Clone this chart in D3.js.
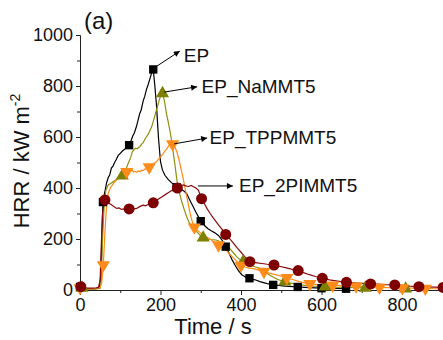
<!DOCTYPE html>
<html><head><meta charset="utf-8">
<script src="https://cdn.jsdelivr.net/npm/d3@7"></script>
<style>body{margin:0;background:#fff}svg{display:block}text{font-family:"Liberation Sans",Arial,sans-serif}</style>
</head><body><svg id="c" width="443" height="340"></svg>
<script>
// ---- data ----
const xTicks = [0, 200, 400, 600, 800];
const xMinor = [100, 300, 500, 700, 900];
const yTicks = [0, 200, 400, 600, 800, 1000];
const yMinor = [100, 300, 500, 700, 900];
const seriesNames = ["EP", "EP_NaMMT5", "EP_TPPMMT5", "EP_2PIMMT5"];

const epLine = [[0,14],[5,10],[10,6],[20,4],[30,4],[40,5],[48,8],[52,60],[55,250],[57,340],[60,372],[63,395],[66,420],[70,440],[74,452],[78,478],[82,486],[86,500],[90,512],[95,528],[100,536],[106,546],[111,552],[116,560],[122,568],[127,586],[131,604],[135,616],[140,640],[144,664],[148,690],[152,706],[157,742],[161,760],[165,786],[169,804],[174,830],[178,852],[182,865],[186,800],[190,725],[195,596],[200,503],[205,470],[211,450],[220,432],[228,420],[240,405],[250,395],[258,388],[265,378],[272,355],[280,330],[288,305],[295,285],[302,270],[310,252],[318,240],[326,232],[335,224],[344,214],[352,198],[362,172],[370,145],[378,118],[386,95],[394,75],[402,60],[412,50],[421,46],[435,40],[447,33],[465,25],[480,20],[510,15],[540,12],[570,9],[600,7],[630,6],[660,5],[670,4]];
const epMarks = [[0,12],[57,345],[122,568],[182,865],[240,403],[300,270],[362,170],[421,46],[480,20],[541,12],[600,7],[661,5]];

const naLine = [[0,12],[10,6],[20,4],[30,3],[40,4],[50,6],[53,40],[56,200],[60,330],[64,390],[70,412],[76,418],[83,425],[90,432],[98,440],[105,448],[112,462],[118,490],[122,505],[126,520],[130,542],[134,550],[138,556],[142,554],[146,560],[149,562],[153,572],[157,578],[161,590],[166,603],[170,612],[174,626],[178,640],[184,672],[190,706],[196,740],[201,765],[205,771],[210,740],[215,690],[219,660],[224,620],[228,582],[232,535],[236,490],[240,440],[244,400],[248,375],[253,345],[259,315],[265,287],[272,262],[279,245],[286,235],[294,222],[300,212],[306,205],[315,200],[325,198],[333,197],[340,195],[348,190],[356,184],[364,176],[372,162],[380,148],[389,131],[397,120],[405,110],[414,104],[425,96],[436,90],[447,85],[460,70],[475,55],[490,42],[505,34],[520,28],[540,22],[560,18],[580,15],[605,13],[630,11],[660,10],[690,9],[710,8],[730,7]];
const naMarks = [[5,8],[105,448],[205,771],[306,205],[405,110],[509,33],[609,13],[709,8],[809,5]];

const tpLine = [[0,10],[10,5],[20,4],[30,5],[40,6],[50,10],[54,30],[58,98],[62,230],[66,330],[70,379],[76,402],[83,418],[90,430],[99,444],[108,455],[116,464],[121,470],[125,466],[129,472],[133,463],[137,466],[141,461],[145,468],[149,464],[153,470],[157,468],[161,474],[165,476],[168,478],[172,482],[176,486],[180,494],[184,497],[188,500],[192,506],[196,515],[200,520],[204,530],[207,536],[211,545],[215,552],[219,562],[224,572],[230,572],[236,560],[241,540],[246,510],[251,475],[256,440],[261,400],[266,360],[271,320],[276,285],[282,250],[290,235],[298,226],[306,216],[314,208],[323,200],[332,190],[338,182],[344,176],[352,168],[358,162],[364,155],[372,140],[380,128],[388,115],[395,104],[400,96],[410,90],[420,86],[431,84],[444,78],[457,72],[470,66],[485,60],[500,54],[514,48],[530,40],[545,33],[558,28],[571,24],[590,21],[610,19],[628,18],[650,17],[668,16],[686,15],[705,13],[725,11],[744,10],[765,9],[785,8],[801,8],[830,7],[858,6],[880,5],[900,5]];
const tpMarks = [[0,8],[58,98],[116,464],[172,482],[230,572],[284,246],[344,176],[400,96],[457,72],[514,48],[571,24],[628,18],[686,15],[744,10],[801,8],[858,6]];

const piLine = [[0,13],[5,10],[10,8],[20,7],[30,7],[40,8],[46,10],[50,40],[53,180],[56,300],[60,345],[62,353],[66,348],[72,340],[79,333],[85,326],[91,320],[97,322],[103,316],[110,318],[116,314],[122,318],[128,322],[134,318],[141,320],[147,326],[152,330],[157,333],[163,330],[170,336],[176,340],[182,342],[188,350],[194,356],[200,362],[206,368],[212,374],[218,380],[224,386],[230,392],[236,396],[240,399],[246,404],[252,410],[257,412],[263,408],[270,406],[276,410],[282,405],[288,400],[294,392],[298,375],[302,358],[310,335],[316,318],[323,301],[330,285],[337,270],[344,255],[352,240],[357,230],[363,218],[370,204],[378,190],[385,176],[392,162],[399,150],[406,137],[414,122],[421,111],[430,108],[440,106],[452,104],[465,101],[482,98],[495,93],[510,88],[525,82],[542,76],[555,68],[570,60],[585,53],[602,46],[620,40],[640,35],[662,30],[680,28],[700,26],[722,24],[740,23],[760,21],[782,20],[800,18],[820,15],[842,13],[860,12],[880,11],[902,10]];
const piMarks = [[2,13],[62,353],[122,318],[182,342],[242,400],[302,358],[362,218],[422,111],[482,98],[542,76],[602,46],[662,30],[722,24],[782,20],[842,13],[902,10]];

// annotation arrows (data coords): from, to, label anchor
const annFrom = [[191,878],[209,776],[234,573],[293,408]];
const annTo   = [[248,937],[291,797],[316,596],[380,408]];
const annText = [[258,895],[302,771],[322,571],[395,383]];

// ---- drawing ----
const svg = d3.select("#c");
const x = d3.scaleLinear().domain([0, 900]).range([80, 442.25]);
const y = d3.scaleLinear().domain([0, 1000]).range([290, 35]);

const defs = svg.append("defs");
defs.append("marker").attr("id","ah").attr("viewBox","0 0 10 10").attr("refX",10).attr("refY",5)
  .attr("markerWidth",8).attr("markerHeight",6).attr("markerUnits","userSpaceOnUse").attr("orient","auto")
  .append("path").attr("d","M0,0L10,5L0,10Z").attr("fill","#000");

// axes
const gx = svg.append("g").attr("transform","translate(0,290)");
gx.call(d3.axisBottom(x).tickValues(xTicks).tickSize(5).tickSizeOuter(0).tickPadding(3).tickFormat(d3.format("d")));
gx.append("g").call(d3.axisBottom(x).tickValues(xMinor).tickSize(3).tickFormat("").tickSizeOuter(0));
const gy = svg.append("g").attr("transform","translate(80,0)");
gy.call(d3.axisLeft(y).tickValues(yTicks).tickSize(4).tickSizeOuter(0).tickPadding(3).tickFormat(d3.format("d")));
gy.append("g").call(d3.axisLeft(y).tickValues(yMinor).tickSize(3).tickFormat("").tickSizeOuter(0));
svg.selectAll(".domain").attr("stroke","#222").attr("stroke-width",1);
svg.selectAll(".tick line").attr("stroke","#222");
svg.selectAll(".tick text").attr("font-size",18).attr("font-family","Liberation Sans, Arial").attr("fill","#111");

const line = d3.line().x(d=>x(d[0])).y(d=>y(d[1]));
const series = [
  {line: epLine, marks: epMarks, color:"#000000", fill:"#000000", shape:"square"},
  {line: naLine, marks: naMarks, color:"#8f8f10", fill:"#7f7f00", shape:"tri"},
  {line: tpLine, marks: tpMarks, color:"#ff8a14", fill:"#ff8c1a", shape:"itri"},
  {line: piLine, marks: piMarks, color:"#8a0a0a", fill:"#7f0000", shape:"circle"}
];
const sym = {
  square: d3.symbol().type(d3.symbolSquare).size(70),
  tri: d3.symbol().type(d3.symbolTriangle).size(75),
  itri: d3.symbol().type(d3.symbolTriangle).size(75),
  circle: d3.symbol().type(d3.symbolCircle).size(95)
};
series.forEach(s=>{
  svg.append("path").attr("d", line(s.line)).attr("fill","none").attr("stroke", s.color).attr("stroke-width",1.2);
});
series.forEach(s=>{
  svg.append("g").selectAll("path").data(s.marks).join("path")
    .attr("d", sym[s.shape]())
    .attr("transform", d=>`translate(${x(d[0])},${y(d[1])})` + (s.shape==="itri"?" rotate(180)":""))
    .attr("fill", s.fill);
});

// annotations
seriesNames.forEach((n,i)=>{
  svg.append("line").attr("x1",x(annFrom[i][0])).attr("y1",y(annFrom[i][1]))
    .attr("x2",x(annTo[i][0])).attr("y2",y(annTo[i][1])).attr("stroke","#000").attr("stroke-width",1)
    .attr("marker-end","url(#ah)");
  svg.append("text").attr("x",x(annText[i][0])).attr("y",y(annText[i][1])).attr("font-size",19).attr("fill","#111").text(n);
});

// titles
svg.append("text").attr("x",84).attr("y",29).attr("font-size",24).attr("fill","#111").text("(a)");
svg.append("text").attr("x",213).attr("y",334).attr("text-anchor","middle").attr("font-size",22).attr("fill","#111").text("Time / s");
const yt = svg.append("text").attr("transform","translate(28.5,161) rotate(-90)").attr("text-anchor","middle").attr("font-size",22).attr("fill","#111");
yt.append("tspan").text("HRR / kW m");
yt.append("tspan").attr("dy",-9).attr("font-size",14).text("-2");
</script></body></html>
